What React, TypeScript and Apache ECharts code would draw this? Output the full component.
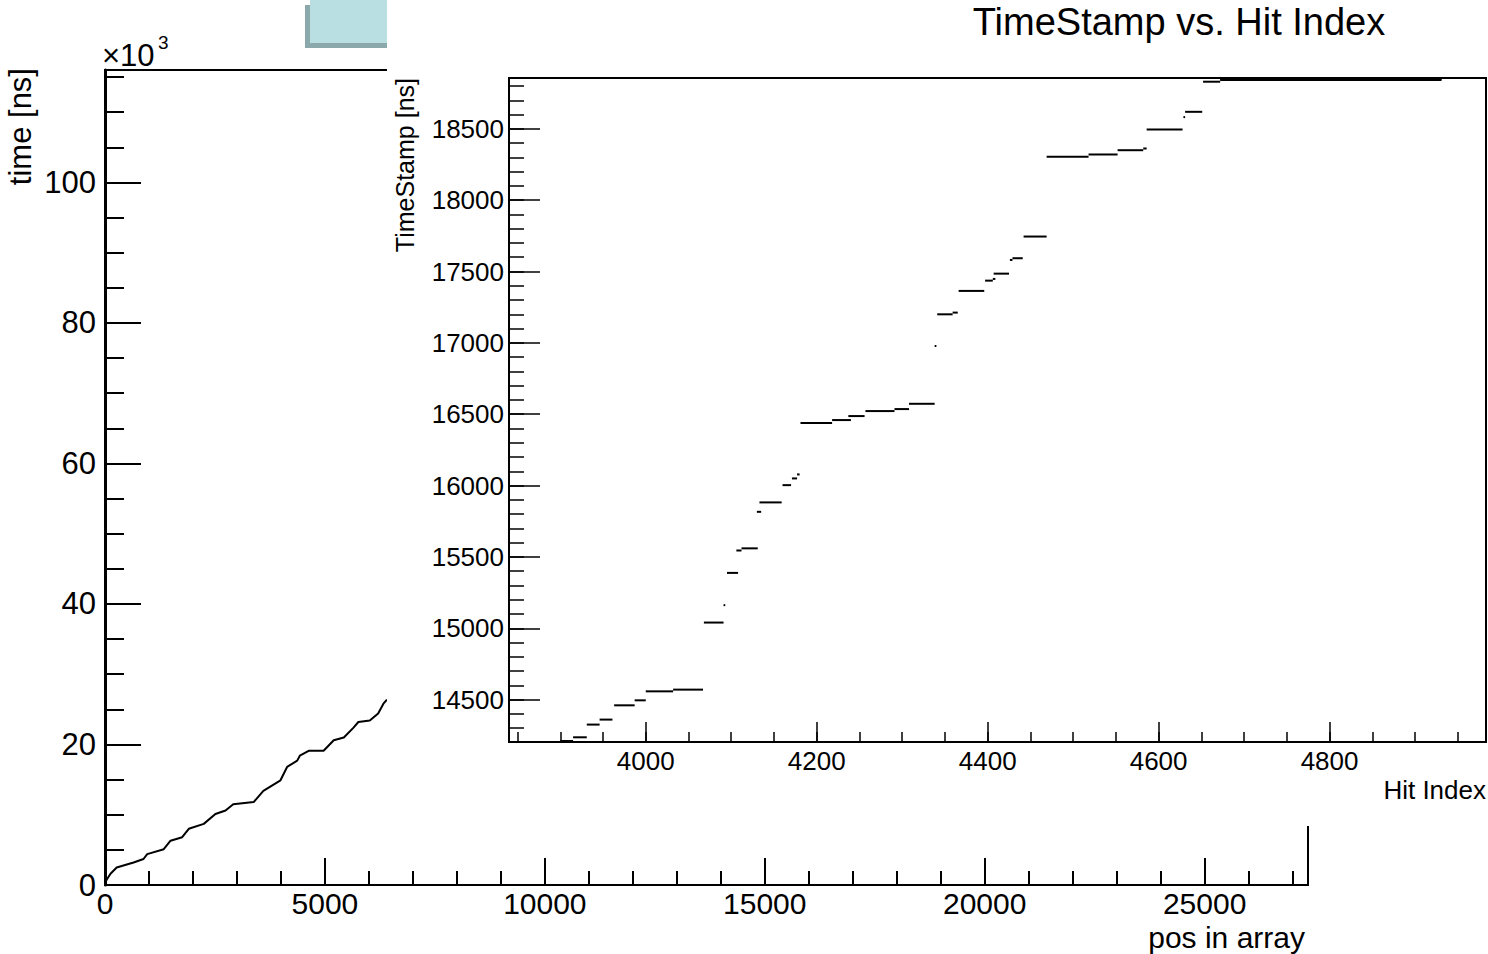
import React, { useEffect, useRef } from 'react';
import * as echarts from 'echarts';

// Background graph: time [ns] vs pos in array
const posInArray = [20, 34, 125, 265, 650, 875, 960, 1336, 1490, 1755, 1905, 2245, 2510, 2740, 2915, 3380, 3600, 3990, 4140, 4370, 4430, 4630, 4970, 5200, 5430, 5650, 5760, 6020, 6210, 6330, 6410];
const timeNs = [600, 700, 1600, 2500, 3200, 3700, 4400, 5100, 6300, 6800, 8000, 8700, 10100, 10600, 11500, 11800, 13400, 14900, 16800, 17700, 18400, 19100, 19100, 20600, 21000, 22400, 23200, 23400, 24400, 25800, 26400];

// Inset: TimeStamp vs Hit Index (plateaus: first hit, last hit, timestamp)
const hitStart = [3900, 3915, 3931, 3946, 3963, 3987, 4000, 4032, 4068, 4091, 4095, 4106, 4112, 4130, 4133, 4160, 4171, 4177, 4181, 4218, 4237, 4257, 4291, 4308, 4338, 4341, 4359, 4366, 4397, 4406, 4407, 4426, 4429, 4442, 4469, 4518, 4552, 4582, 4586, 4629, 4631, 4652, 4672, 4672];
const hitEnd = [3915, 3931, 3946, 3961, 3987, 4000, 4032, 4067, 4091, 4093, 4108, 4112, 4131, 4135, 4159, 4170, 4177, 4180, 4218, 4240, 4256, 4291, 4308, 4338, 4340, 4359, 4365, 4396, 4406, 4409, 4425, 4429, 4441, 4469, 4518, 4552, 4582, 4586, 4628, 4631, 4651, 4672, 4931, 4931];
const hitTime = [14210, 14236, 14325, 14360, 14460, 14495, 14558, 14570, 15040, 15162, 15388, 15545, 15560, 15816, 15882, 16003, 16050, 16078, 16438, 16459, 16487, 16522, 16536, 16573, 16978, 17200, 17212, 17364, 17436, 17448, 17485, 17581, 17593, 17745, 18304, 18320, 18350, 18362, 18495, 18582, 18619, 18830, 18842, 18850];

const outerX = { min: 0, max: 27350, major: 5000, minor: 1000 };
const outerY = { min: 0, max: 116000, major: 20000, minor: 5000 };
const innerX = { min: 3840, max: 4983, major: 200, minor: 50 };
const innerY = { min: 14203, max: 18856, major: 500, minor: 100 };

const FONT = '"Liberation Sans", Arial, Helvetica, sans-serif';

export default function App() {
  const ref = useRef<HTMLDivElement>(null);

  useEffect(() => {
    document.body.style.margin = '0';
    const chart = echarts.init(ref.current as HTMLDivElement, null, { renderer: 'svg' });
    const outerData = posInArray.map((p, i) => [p, timeNs[i]]);
    const innerData = hitStart.map((s, i) => [s, hitEnd[i], hitTime[i]]);
    const plain = (v: number) => String(v);

    const noSplit = { show: false };
    const majorAxis = (extra: any, tickLen: number, tickW: number, lineW: number) => ({
      type: 'value',
      axisLine: { show: true, onZero: false, lineStyle: { color: '#000', width: lineW } },
      axisTick: { show: true, inside: true, length: tickLen, lineStyle: { color: '#000', width: tickW } },
      splitLine: noSplit,
      ...extra,
    });
    const minorAxis = (extra: any, tickLen: number, tickW: number) => ({
      type: 'value',
      axisLine: { show: false, onZero: false },
      axisTick: { show: true, inside: true, length: tickLen, lineStyle: { color: '#000', width: tickW } },
      axisLabel: { show: false },
      splitLine: noSplit,
      ...extra,
    });

    chart.setOption({
      animation: false,
      backgroundColor: '#fff',
      grid: [
        { left: 105, top: 70, width: 1203, height: 815, show: true, borderColor: '#000', borderWidth: 2, z: 0 },
        { left: 509, top: 78, width: 977, height: 664, show: true, borderColor: '#000', borderWidth: 2, z: 20 },
      ],
      xAxis: [
        majorAxis({ gridIndex: 0, position: 'bottom', min: outerX.min, max: outerX.max, interval: outerX.major, z: 1,
          axisLabel: { show: true, margin: 5, lineHeight: 26, color: '#000', fontSize: 30, fontFamily: FONT, showMaxLabel: false, formatter: plain } }, 27, 2, 2),
        minorAxis({ gridIndex: 0, position: 'bottom', min: outerX.min, max: outerX.max, interval: outerX.minor, z: 1 }, 14, 2),
        majorAxis({ gridIndex: 1, position: 'bottom', min: innerX.min, max: innerX.max, minInterval: innerX.major, maxInterval: innerX.major, z: 20,
          axisLabel: { show: true, margin: 6, color: '#000', fontSize: 26, fontFamily: FONT, showMaxLabel: false, showMinLabel: false, formatter: plain } }, 20, 1.5, 2),
        minorAxis({ gridIndex: 1, position: 'bottom', min: innerX.min, max: innerX.max, minInterval: innerX.minor, maxInterval: innerX.minor, z: 20 }, 10, 1.5),
      ],
      yAxis: [
        majorAxis({ gridIndex: 0, position: 'left', min: outerY.min, max: outerY.max, interval: outerY.major, z: 1,
          axisLabel: { show: true, margin: 9, color: '#000', fontSize: 31, fontFamily: FONT, showMaxLabel: false, formatter: (v: number) => String(v / 1000) } }, 36, 2, 3),
        minorAxis({ gridIndex: 0, position: 'left', min: outerY.min, max: outerY.max, interval: outerY.minor, z: 1 }, 19, 2),
        majorAxis({ gridIndex: 1, position: 'left', min: innerY.min, max: innerY.max, minInterval: innerY.major, maxInterval: innerY.major, z: 20,
          axisLabel: { show: true, margin: 5, color: '#000', fontSize: 26, fontFamily: FONT, showMaxLabel: false, showMinLabel: false, formatter: plain } }, 31, 1.5, 2),
        minorAxis({ gridIndex: 1, position: 'left', min: innerY.min, max: innerY.max, minInterval: innerY.minor, maxInterval: innerY.minor, z: 20 }, 15, 1.5),
      ],
      series: [
        {
          type: 'line',
          xAxisIndex: 0,
          yAxisIndex: 0,
          data: outerData,
          symbol: 'none',
          lineStyle: { color: '#000', width: 2 },
          z: 2,
        },
        {
          type: 'custom',
          xAxisIndex: 2,
          yAxisIndex: 2,
          data: innerData,
          encode: { x: [0, 1], y: 2 },
          z: 25,
          renderItem: (params: any, api: any) => {
            const p1 = api.coord([api.value(0), api.value(2)]);
            const p2 = api.coord([api.value(1), api.value(2)]);
            return {
              type: 'line',
              shape: { x1: p1[0], y1: p1[1], x2: p2[0], y2: p2[1] },
              style: { stroke: '#000', lineWidth: 2 },
            };
          },
        },
      ],
      graphic: [
        { type: 'rect', shape: { x: 305, y: 5, width: 82, height: 43 }, style: { fill: '#8ba9ab' }, z: 5 },
        { type: 'rect', shape: { x: 310, y: 0, width: 77, height: 43 }, style: { fill: '#b9dfe2' }, z: 6 },
        { type: 'rect', shape: { x: 387, y: 0, width: 1101, height: 826 }, style: { fill: '#fff' }, z: 10 },
        { type: 'text', x: 102, y: 55, style: { text: '×10', fontSize: 31, fontFamily: FONT, fill: '#000', align: 'left', verticalAlign: 'middle' }, z: 40 },
        { type: 'text', x: 158, y: 42, style: { text: '3', fontSize: 19, fontFamily: FONT, fill: '#000', align: 'left', verticalAlign: 'middle' }, z: 40 },
        { type: 'text', x: 20, y: 68, rotation: Math.PI / 2, style: { text: 'time [ns]', fontSize: 31, fontFamily: FONT, fill: '#000', align: 'right', verticalAlign: 'middle' }, z: 40 },
        { type: 'text', x: 1305, y: 937, style: { text: 'pos in array', fontSize: 30, lineHeight: 30, fontFamily: FONT, fill: '#000', align: 'right', verticalAlign: 'middle' }, z: 40 },
        { type: 'text', x: 1179, y: 22, style: { text: 'TimeStamp vs. Hit Index', fontSize: 38, fontFamily: FONT, fill: '#000', align: 'center', verticalAlign: 'middle' }, z: 40 },
        { type: 'text', x: 405, y: 78, rotation: Math.PI / 2, style: { text: 'TimeStamp [ns]', fontSize: 25, fontFamily: FONT, fill: '#000', align: 'right', verticalAlign: 'middle' }, z: 40 },
        { type: 'text', x: 1486, y: 790, style: { text: 'Hit Index', fontSize: 26, fontFamily: FONT, fill: '#000', align: 'right', verticalAlign: 'middle' }, z: 40 },
      ],
    });

    return () => chart.dispose();
  }, []);

  return <div ref={ref} style={{ width: 1488, height: 954 }} />;
}
